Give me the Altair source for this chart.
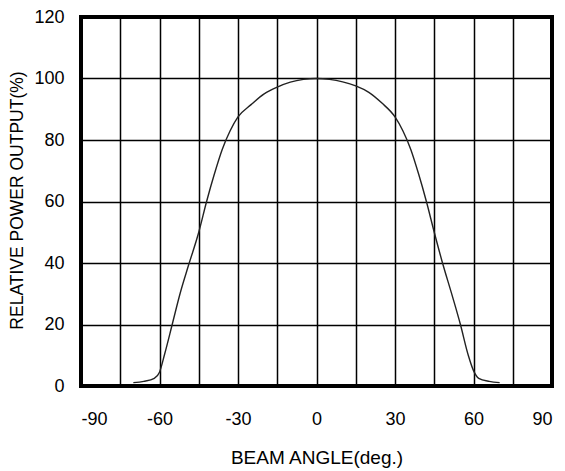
import altair as alt
import pandas as pd

angles = [-70, -66, -62, -60, -58, -55, -52, -49, -45, -42, -39, -36, -33, -30,
          -25, -20, -15, -10, -5, 0, 5, 10, 15, 20, 25, 30, 33, 36, 39, 42, 45,
          48, 52, 55, 58, 60, 62, 66, 70]
power = [1.1, 1.5, 2.5, 4.5, 10.5, 20.5, 30.5, 39, 50, 60, 69, 77, 83, 87.5,
         91.5, 95, 97.2, 98.8, 99.7, 100, 99.7, 98.9, 97.6, 95.5, 92, 87.5, 83, 77,
         69, 60, 50, 40.5, 29, 20, 10, 5, 2.5, 1.5, 1.1]
x_ticks = [-90, -75, -60, -45, -30, -15, 0, 15, 30, 45, 60, 75, 90]
y_ticks = [0, 20, 40, 60, 80, 100, 120]

df = pd.DataFrame({"angle": angles, "power": power})

font = "Liberation Sans"

chart = alt.Chart(df).mark_line(
    color="#222222", strokeWidth=1.4, interpolate="monotone"
).encode(
    x=alt.X("angle:Q",
            scale=alt.Scale(domain=[-90, 90], nice=False, zero=False),
            axis=alt.Axis(values=x_ticks, title="BEAM ANGLE(deg.)",
                          labelExpr="datum.value % 30 == 0 ? '' + datum.value : ''",
                          grid=True, gridColor="black", gridWidth=1.5, gridOpacity=1,
                          domain=False, ticks=False, labelPadding=24,
                          labelFontSize=18, labelFont=font, labelColor="black",
                          titleFont=font, titleFontSize=19, titleFontWeight="normal",
                          titleColor="black", titleY=71, titleBaseline="middle")),
    y=alt.Y("power:Q",
            scale=alt.Scale(domain=[0, 120], nice=False),
            axis=alt.Axis(values=y_ticks, title="RELATIVE POWER OUTPUT(%)",
                          grid=True, gridColor="black", gridWidth=1.5, gridOpacity=1,
                          domain=False, ticks=False, labelPadding=17,
                          labelFontSize=18, labelFont=font, labelColor="black",
                          titleFont=font, titleFontSize=17.5, titleFontWeight="normal",
                          titleColor="black", titleX=-64, titleY=183,
                          titleBaseline="middle", titleAlign="center")),
).properties(
    width=471, height=369,
    autosize=alt.AutoSizeParams(type="none"),
    padding={"left": 73, "top": 9, "right": 5, "bottom": 86},
).configure_view(stroke="black", strokeWidth=4)

chart.save("out.html", embed_options={"renderer": "svg", "actions": False})
